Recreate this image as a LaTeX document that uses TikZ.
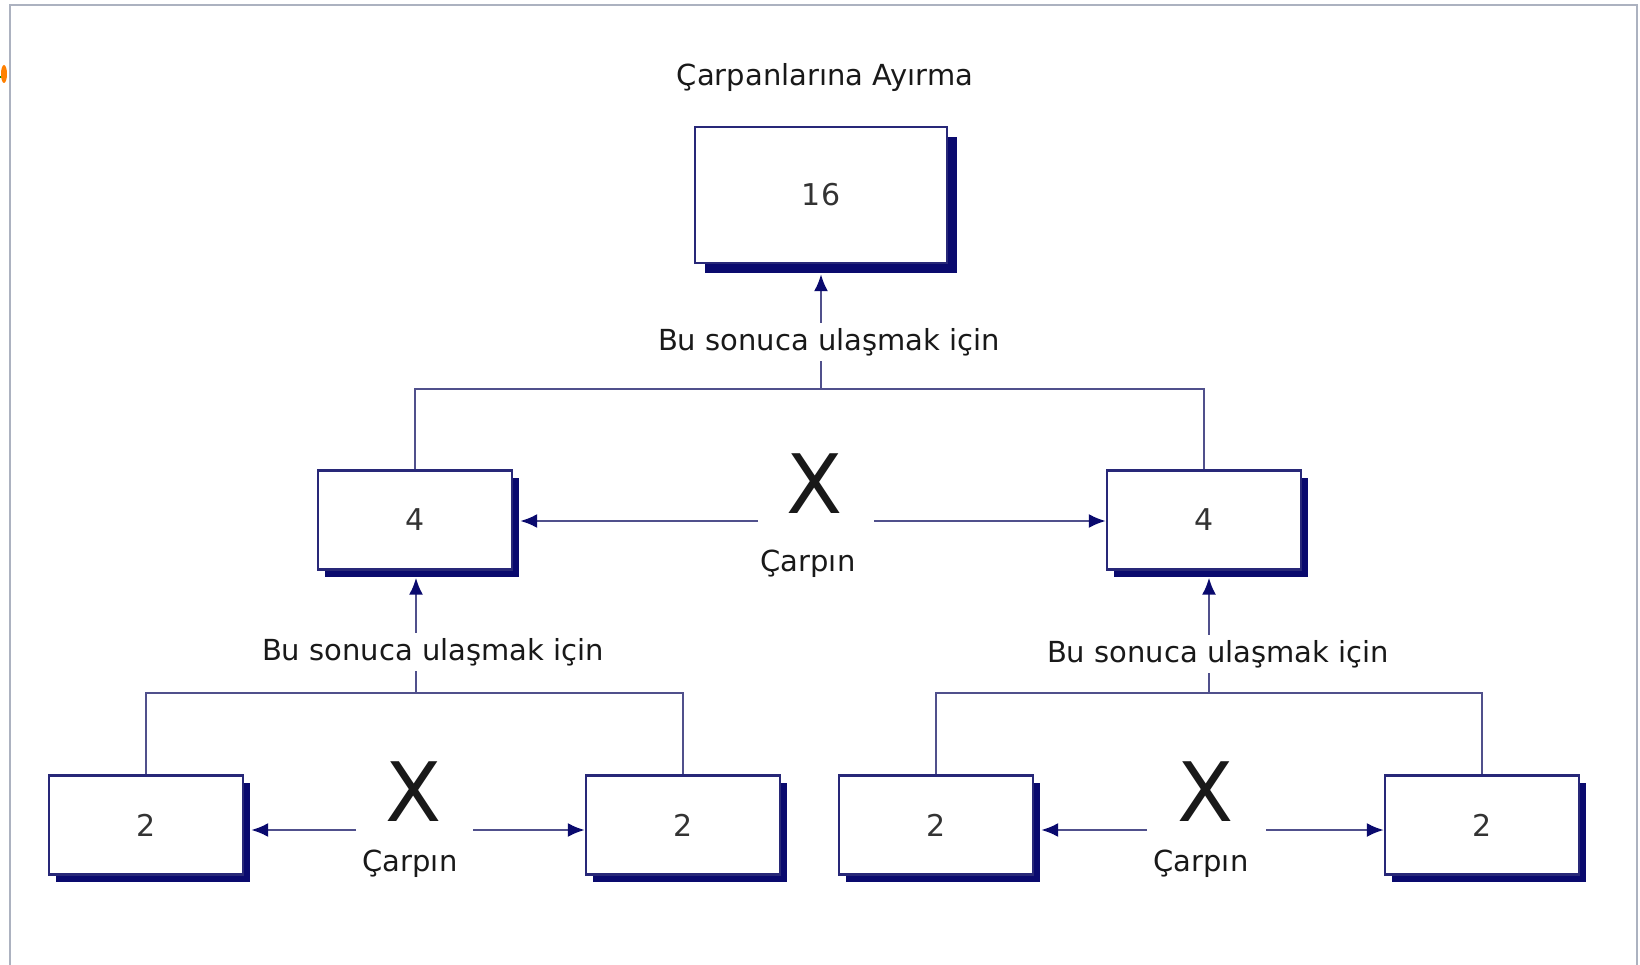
\documentclass[tikz,border=0pt]{standalone}
\usepackage{fontspec}
\setmainfont{DejaVu Sans}
\usetikzlibrary{arrows.meta,shadows,calc}

\definecolor{boxline}{RGB}{40,40,120}
\definecolor{shade}{RGB}{10,10,110}
\definecolor{linkc}{RGB}{80,80,140}
\definecolor{framec}{RGB}{172,178,192}

\begin{document}
\begin{tikzpicture}[x=1pt,y=-1pt,>={Latex[length=17pt,width=14pt,color=shade]},
  box/.style={draw=boxline,line width=2.2pt,fill=white,minimum width=194pt,minimum height=99pt,
    font=\fontsize{30}{36}\selectfont,text=black!80,
    drop shadow={shadow xshift=#1,shadow yshift=-#1,fill=shade,opacity=1}},
  box/.default=7pt]
\tikzstyle{link}=[draw=linkc,line width=2.5pt]
\tikzstyle{arr}=[link,->]
\tikzstyle{lbl}=[font=\fontsize{29}{34}\selectfont,text=black!90,inner sep=5pt]
\tikzstyle{times}=[font=\fontsize{82}{90}\selectfont,text=black!90,inner sep=0pt]

\useasboundingbox (0,0) rectangle (1640,965);
\fill[white] (0,0) rectangle (1640,965);
\draw[framec,line width=2pt] (10,965) -- (10,5) -- (1637,5) -- (1637,965);
\draw[green!60!black,line width=1.5pt] (0,77) -- (4,77);
\fill[orange] (4,74) ellipse [x radius=3pt,y radius=9pt];

\node[lbl]                 (title) at (825,78)  {Çarpanlarına Ayırma};
\node[box=10pt,minimum width=252pt,minimum height=136pt] (top) at (821,195) {16};
\node[lbl]                 (lT)    at (829,342) {Bu sonuca ulaşmak için};

\node[box]                 (mL)    at (415,520) {4};
\node[box]                 (mR)    at (1204,520) {4};
\node[times]               (xM)    at (815,484) {X};
\node[lbl]                 (cM)    at (808,564) {Çarpın};

\node[lbl]                 (lL)    at (433,652) {Bu sonuca ulaşmak için};
\node[lbl]                 (lR)    at (1218,654) {Bu sonuca ulaşmak için};

\node[box]                 (bA)    at (146,825) {2};
\node[box]                 (bB)    at (683,825) {2};
\node[box]                 (bC)    at (936,825) {2};
\node[box]                 (bD)    at (1482,825) {2};
\node[times]               (xL)    at (414,792) {X};
\node[lbl]                 (cL)    at (410,864) {Çarpın};
\node[times]               (xR)    at (1206,792) {X};
\node[lbl]                 (cR)    at (1201,864) {Çarpın};

\coordinate (jT) at (821,389);
\coordinate (jL) at (416,693);
\coordinate (jR) at (1209,693);
\coordinate (aML) at (758,521);
\coordinate (aMR) at (874,521);
\coordinate (aLL) at (356,830);
\coordinate (aLR) at (473,830);
\coordinate (aRL) at (1147,830);
\coordinate (aRR) at (1266,830);

\draw[link] (mL.north) |- (jT) -| (mR.north);
\draw[link] (jT) -- (lT.south -| jT);
\draw[arr] (lT.north -| jT) -- ($(top.south -| jT)+(0,10)$);

\draw[link] (bA.north) |- (jL) -| (bB.north);
\draw[link] (jL) -- (lL.south -| jL);
\draw[arr] (lL.north -| jL) -- ($(mL.south -| jL)+(0,7)$);

\draw[link] (bC.north) |- (jR) -| (bD.north);
\draw[link] (jR) -- (lR.south -| jR);
\draw[arr] (lR.north -| jR) -- ($(mR.south -| jR)+(0,7)$);

\draw[arr] (aML) -- ($(aML -| mL.east)+(7,0)$);
\draw[arr] (aMR) -- (aMR -| mR.west);
\draw[arr] (aLL) -- ($(aLL -| bA.east)+(7,0)$);
\draw[arr] (aLR) -- (aLR -| bB.west);
\draw[arr] (aRL) -- ($(aRL -| bC.east)+(7,0)$);
\draw[arr] (aRR) -- (aRR -| bD.west);
\end{tikzpicture}
\end{document}
